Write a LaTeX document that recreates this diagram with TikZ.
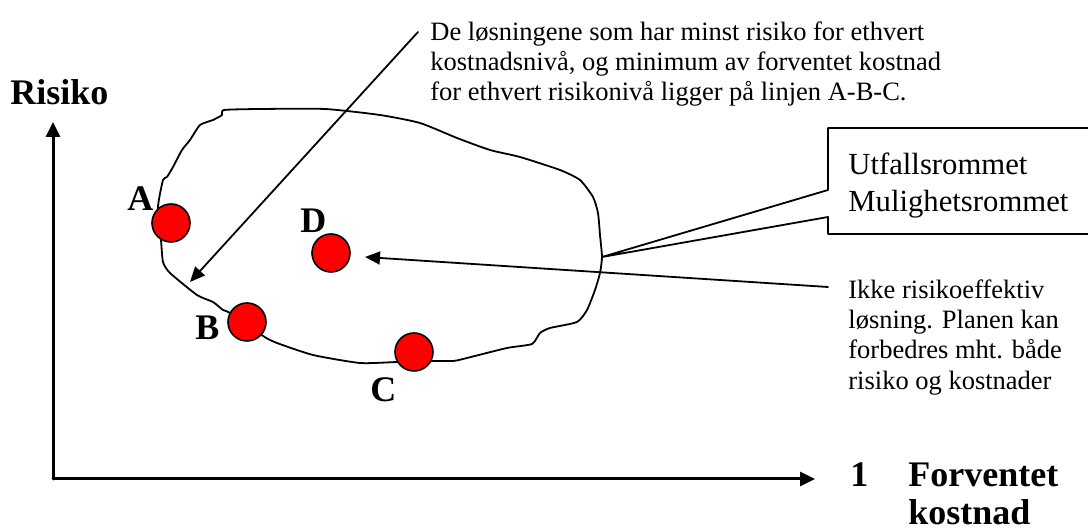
\documentclass[tikz,border=0pt]{standalone}
\usepackage{fontspec}
\setmainfont{Liberation Serif}
\usetikzlibrary{arrows.meta}

\begin{document}
\begin{tikzpicture}[
			x=0.5pt, y=-0.5pt,
			line cap=round,
			line join=round,
			dot/.style={circle, draw, fill=red, line width=0.8pt, minimum size=19pt, inner sep=0pt},
			letter/.style={anchor=base west, inner sep=0pt, font=\fontsize{18}{19}\selectfont\bfseries},
			note/.style={anchor=north west, align=left, inner sep=0pt, font=\fontsize{13.25}{15.2}\selectfont},
			pointer/.style={line width=0.9pt, -{Triangle[length=7.5pt, width=6.5pt]}}
			]
			\useasboundingbox (0,0) rectangle (1088,528);
			
			% Axes
			\coordinate (origin) at (53,479);
			\coordinate (ytop) at (53,122);
			\coordinate (xend) at (815,479);
			\draw[line width=1.5pt, -{Triangle[length=7.5pt, width=7pt]}] (origin) -- (ytop);
			\draw[line width=1.5pt, -{Triangle[length=7.5pt, width=7pt]}] (origin) -- (xend);
			\node[letter] (ylab) at (10,105) {Risiko};
			\node[letter] (xnum) at (850,487) {1};
			\node[letter, anchor=north west, align=left] (xlab) at (908,463) {Forventet\\kostnad};
			
			% Outcome space
			\draw[line width=0.9pt] plot[smooth cycle, tension=0.35] coordinates {
				(224,110) (260,109) (325,109) (380,115) (420,123) (457,138) (490,150)
				(520,157) (560,170) (580,180) (593,197) (598,213) (600,235) (602,257)
				(600,273) (595,290) (587,310) (577,322) (550,328) (540,333) (532,344)
				(507,348) (463,359) (453,361) (433,361) (397,362) (360,363) (313,355)
				(277,343) (263,336) (230,313) (223,310) (213,302) (197,295) (170,273)
				(163,262) (161,240) (158,207) (163,180) (167,177) (173,167) (182,150)
				(190,140) (200,125) (213,120) (222,115)};
			
			% Solutions
			\node[dot] (ptA) at (171,223) {};
			\node[dot] (ptB) at (247,322) {};
			\node[dot] (ptC) at (414,352) {};
			\node[dot] (ptD) at (331,253) {};
			\node[letter] (labA) at (127,211) {A};
			\node[letter] (labB) at (195,340) {B};
			\node[letter] (labC) at (370,402) {C};
			\node[letter] (labD) at (300,233) {D};
			
			% Notes
			\node[note] (topnote) at (430,21) {De løsningene som har minst risiko for ethvert\\kostnadsnivå, og minimum av forventet kostnad\\for ethvert risikonivå ligger på linjen A-B-C.};
			\node[note] (dnote) at (848,279) {Ikke risikoeffektiv\\løsning. Planen kan\\forbedres mht. både\\risiko og kostnader};
			\coordinate (topstart) at (418,32);
			\coordinate (topend) at (190,282);
			\coordinate (dstart) at (828,287);
			\coordinate (dend) at (365,257);
			\draw[pointer] (topstart) -- (topend);
			\draw[pointer] (dstart) -- (dend);
			
			% Callout
			\coordinate (calltip) at (602,257);
			\draw[line width=0.9pt] (1090,128) -- (828,128) -- (828,190) -- (calltip) -- (828,217) -- (828,234) -- (1090,234);
			\node[anchor=north west, align=left, inner sep=0pt, font=\fontsize{15.35}{18.5}\selectfont] (space) at (848,152) {Utfallsrommet\\Mulighetsrommet};
		\end{tikzpicture}
\end{document}
